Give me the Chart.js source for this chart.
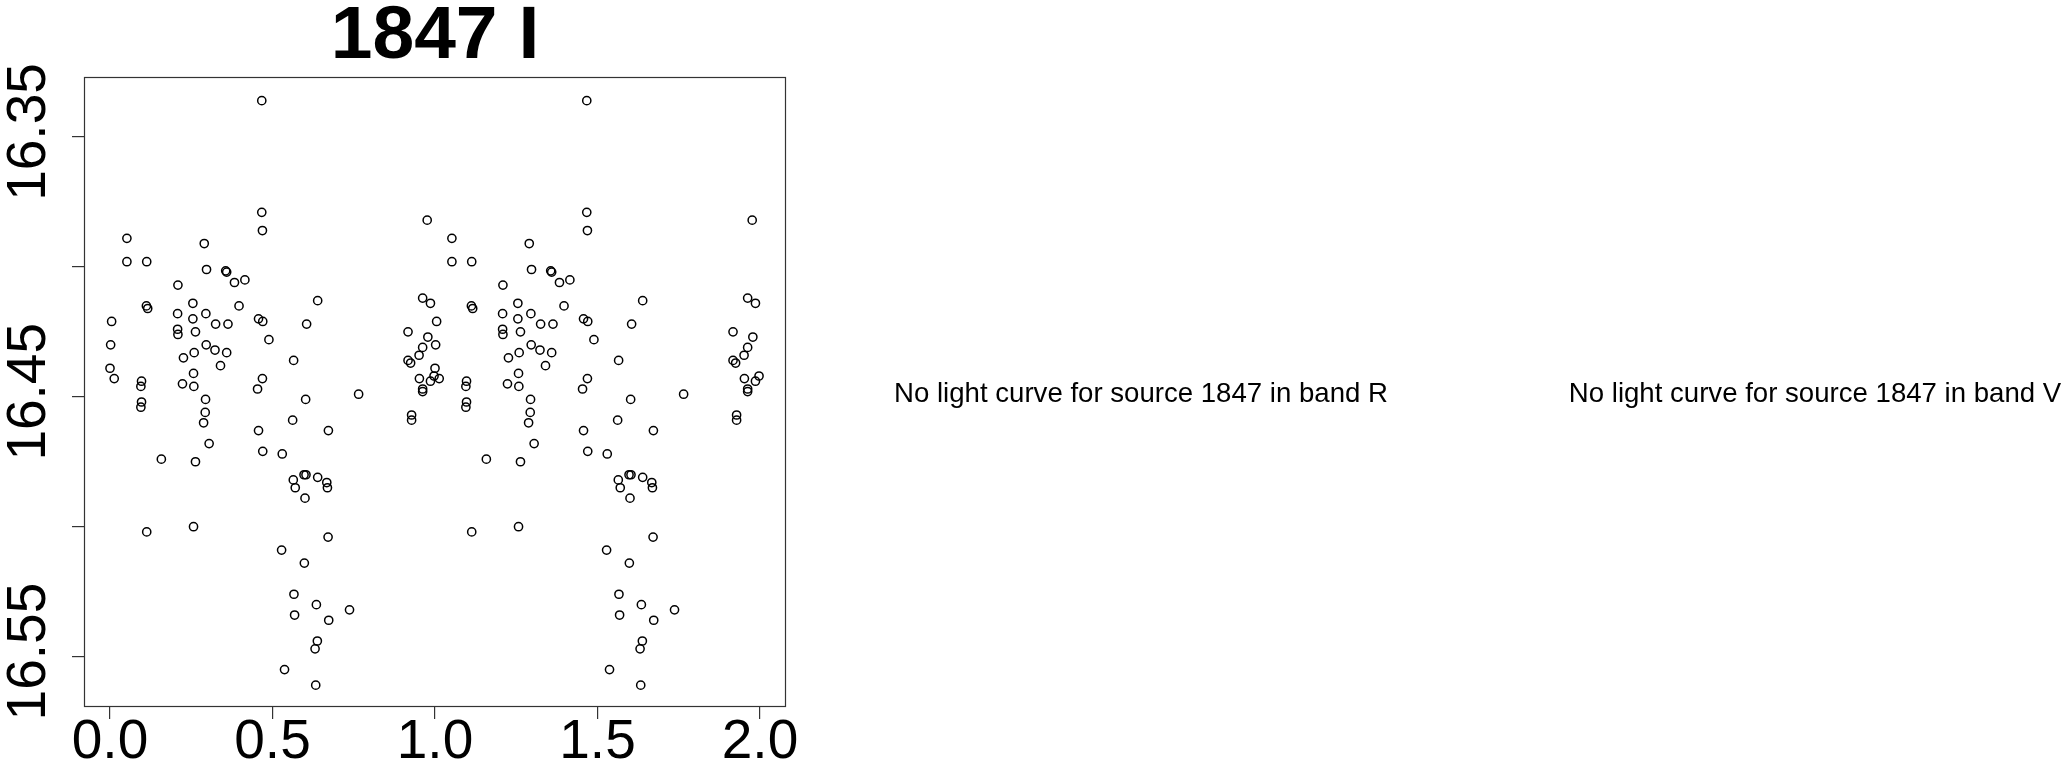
<!DOCTYPE html>
<html>
<head>
<meta charset="utf-8">
<title>1847 I</title>
<script src="https://cdn.jsdelivr.net/npm/chart.js@4.4.1/dist/chart.umd.min.js"></script>
<style>
  html, body { margin: 0; padding: 0; background: #fff; }
  canvas { display: block; }
</style>
</head>
<body>
<canvas id="lc" width="2064" height="766"></canvas>
<script>
// phase-folded light curve, band I (first cycle)
const phase1 = [
  0.000, 0.002, 0.005, 0.013, 0.052, 0.052, 0.095, 0.095, 0.097, 0.097,
  0.112, 0.113, 0.113, 0.116, 0.158, 0.208, 0.208, 0.209, 0.209, 0.223,
  0.226, 0.255, 0.255, 0.257, 0.257, 0.258, 0.259, 0.263, 0.263, 0.288,
  0.290, 0.293, 0.294, 0.295, 0.296, 0.297, 0.305, 0.323, 0.325, 0.340,
  0.356, 0.359, 0.359, 0.363, 0.383, 0.397, 0.415, 0.454, 0.457, 0.457,
  0.467, 0.467, 0.469, 0.469, 0.470, 0.470, 0.489, 0.528, 0.530, 0.537,
  0.562, 0.564, 0.565, 0.566, 0.568, 0.570, 0.597, 0.598, 0.600, 0.602,
  0.603, 0.605, 0.631, 0.633, 0.635, 0.638, 0.639, 0.639, 0.667, 0.669,
  0.671, 0.672, 0.673, 0.737, 0.765, 0.917, 0.917, 0.925, 0.928, 0.928,
  0.951, 0.952, 0.962, 0.962, 0.962, 0.962, 0.976, 0.978, 0.986, 0.986,
  0.997
];
// same observations drawn again one cycle later
const phase2 = [
  1.000, 1.002, 1.005, 1.013, 1.052, 1.052, 1.095, 1.095, 1.097, 1.097,
  1.112, 1.113, 1.113, 1.116, 1.158, 1.208, 1.208, 1.209, 1.209, 1.223,
  1.226, 1.255, 1.255, 1.257, 1.257, 1.258, 1.259, 1.263, 1.263, 1.288,
  1.290, 1.293, 1.294, 1.295, 1.296, 1.297, 1.305, 1.323, 1.325, 1.340,
  1.356, 1.359, 1.359, 1.363, 1.383, 1.397, 1.415, 1.454, 1.457, 1.457,
  1.467, 1.467, 1.469, 1.469, 1.470, 1.470, 1.489, 1.528, 1.530, 1.537,
  1.562, 1.564, 1.565, 1.566, 1.568, 1.570, 1.597, 1.598, 1.600, 1.602,
  1.603, 1.605, 1.631, 1.633, 1.635, 1.638, 1.639, 1.639, 1.667, 1.669,
  1.671, 1.672, 1.673, 1.737, 1.765, 1.917, 1.917, 1.925, 1.928, 1.928,
  1.951, 1.952, 1.962, 1.962, 1.962, 1.962, 1.976, 1.978, 1.986, 1.986,
  1.997
];
const mag = [
  16.439, 16.430, 16.421, 16.443, 16.389, 16.398, 16.446, 16.454, 16.444, 16.452,
  16.415, 16.398, 16.502, 16.416, 16.474, 16.418, 16.424, 16.407, 16.426, 16.445,
  16.435, 16.414, 16.420, 16.441, 16.500, 16.446, 16.433, 16.425, 16.475, 16.460,
  16.391, 16.456, 16.451, 16.418, 16.430, 16.401, 16.468, 16.432, 16.422, 16.438,
  16.4015, 16.402, 16.433, 16.422, 16.406, 16.415, 16.405, 16.447, 16.420, 16.463,
  16.336, 16.379, 16.386, 16.443, 16.421, 16.471, 16.428, 16.509, 16.472, 16.555,
  16.459, 16.482, 16.436, 16.526, 16.534, 16.485, 16.480, 16.514, 16.489, 16.451,
  16.480, 16.422, 16.547, 16.561, 16.530, 16.544, 16.413, 16.481, 16.483, 16.485,
  16.504, 16.463, 16.536, 16.532, 16.449, 16.425, 16.436, 16.437, 16.457, 16.459,
  16.434, 16.443, 16.412, 16.431, 16.447, 16.448, 16.382, 16.427, 16.414, 16.444,
  16.442
];

const xTicks = [0, 0.5, 1, 1.5, 2];
const xTickLabels = ['0.0', '0.5', '1.0', '1.5', '2.0'];
const yTicks = [16.35, 16.40, 16.45, 16.50, 16.55];
const yTickLabels = ['16.35', '', '16.45', '', '16.55'];
const missingBands = ['R', 'V'];

const pts = [];
phase1.forEach((p, i) => pts.push({ x: p, y: mag[i] }));
phase2.forEach((p, i) => pts.push({ x: p, y: mag[i] }));

const FONT = "'Liberation Sans', Arial, Helvetica, sans-serif";

// box around the plot, rotated y labels, and the two empty panels
const extras = {
  id: 'extras',
  afterDraw(chart) {
    const ctx = chart.ctx;
    const a = chart.chartArea;
    const ys = chart.scales.y;
    ctx.save();
    ctx.strokeStyle = '#333';
    ctx.lineWidth = 1.2;
    ctx.strokeRect(a.left + 0.5, a.top + 0.5, a.right - a.left - 1, a.bottom - a.top - 1);

    ctx.fillStyle = '#000';
    ctx.font = '55px ' + FONT;
    ctx.textAlign = 'center';
    ctx.textBaseline = 'alphabetic';
    yTicks.forEach((v, i) => {
      if (!yTickLabels[i]) return;
      const py = ys.getPixelForValue(v);
      ctx.save();
      ctx.translate(45, py - 5);
      ctx.rotate(-Math.PI / 2);
      ctx.fillText(yTickLabels[i], 0, 0);
      ctx.restore();
    });

    ctx.font = '27.6px ' + FONT;
    ctx.textBaseline = 'middle';
    const centers = [1141, 1815];
    missingBands.forEach((b, i) => {
      ctx.fillText('No light curve for source 1847 in band ' + b, centers[i], 394);
    });
    ctx.restore();
  }
};

new Chart(document.getElementById('lc'), {
  type: 'scatter',
  data: {
    datasets: [{
      data: pts,
      pointStyle: 'circle',
      pointRadius: 4.1,
      pointHoverRadius: 4.1,
      borderWidth: 1.5,
      borderColor: '#000',
      backgroundColor: 'rgba(0,0,0,0)'
    }]
  },
  options: {
    responsive: false,
    devicePixelRatio: 1,
    animation: false,
    layout: { padding: { left: 0, right: 1278, top: 0, bottom: 0 } },
    plugins: {
      legend: { display: false },
      tooltip: { enabled: false },
      title: {
        display: true,
        text: '1847 I',
        fullSize: false,
        color: '#000',
        font: { family: FONT, size: 75, weight: 'bold', lineHeight: 0.8 },
        padding: { top: 7, bottom: 10 }
      }
    },
    scales: {
      x: {
        type: 'linear',
        min: -0.08,
        max: 2.08,
        afterBuildTicks: s => { s.ticks = xTicks.map(v => ({ value: v })); },
        afterFit: s => { s.height = 59; },
        ticks: {
          color: '#000',
          padding: -4,
          maxRotation: 0,
          font: { family: FONT, size: 55, lineHeight: 1 },
          callback: (v, i) => xTickLabels[i]
        },
        grid: { drawOnChartArea: false, drawTicks: true, tickLength: 12, color: '#333', lineWidth: 1.2 },
        border: { display: false }
      },
      y: {
        type: 'linear',
        reverse: true,
        min: 16.3269,
        max: 16.5694,
        afterBuildTicks: s => { s.ticks = yTicks.map(v => ({ value: v })); },
        afterFit: s => { s.width = 84; },
        ticks: { display: false },
        grid: { drawOnChartArea: false, drawTicks: true, tickLength: 12, color: '#333', lineWidth: 1.2 },
        border: { display: false }
      }
    }
  },
  plugins: [extras]
});
</script>
</body>
</html>
